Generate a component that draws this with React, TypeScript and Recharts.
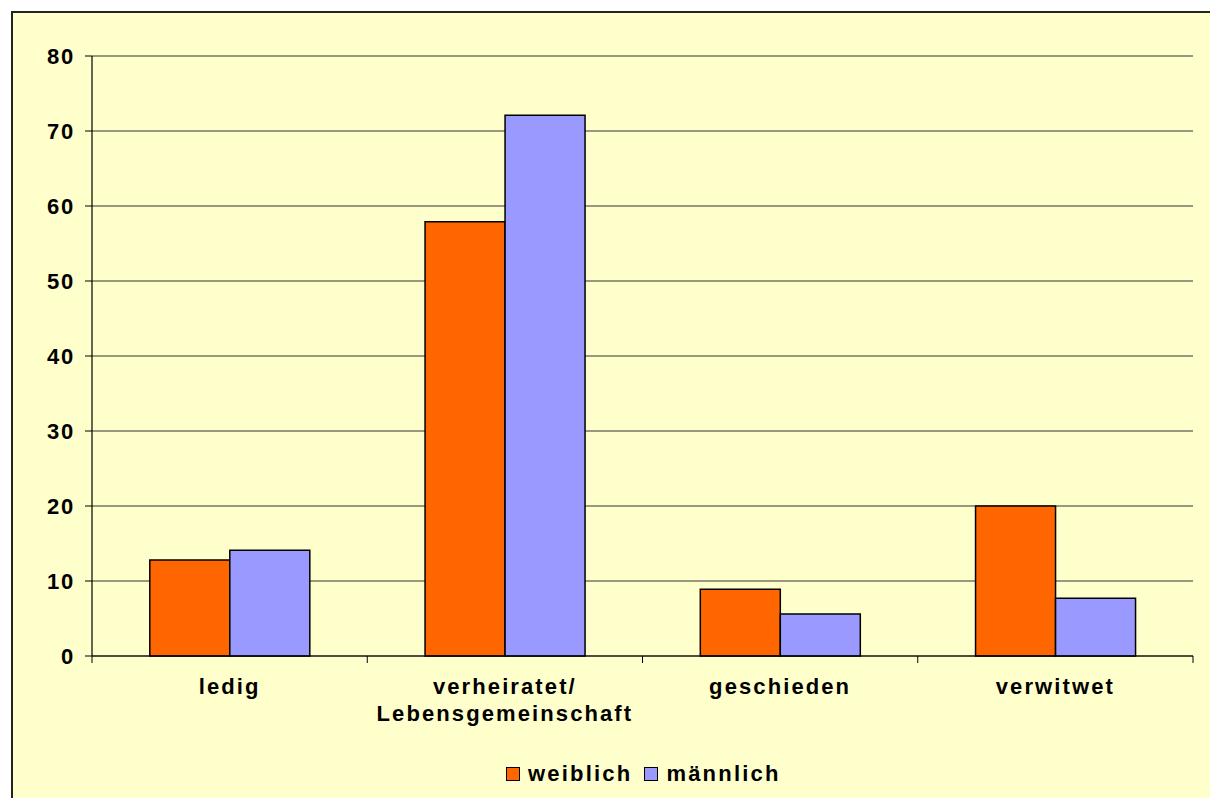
import React from 'react';
import {
    BarChart,
    Bar,
    XAxis,
    YAxis,
    CartesianGrid,
    Legend,
} from 'recharts';

const categories = ['ledig', 'verheiratet/\nLebensgemeinschaft', 'geschieden', 'verwitwet'];
const weiblich = [12.8, 57.9, 8.9, 20.0];
const maennlich = [14.1, 72.1, 5.6, 7.7];
const yTicks = [0, 10, 20, 30, 40, 50, 60, 70, 80];

const data = categories.map((name, i) => ({
    name,
    weiblich: weiblich[i],
    maennlich: maennlich[i],
}));

const FONT = '"Liberation Sans", Arial, sans-serif';

const series = [
    { key: 'weiblich', label: 'weiblich', color: '#FF6600' },
    { key: 'maennlich', label: 'männlich', color: '#9999FF' },
];

// category label plus the tick marks on the category boundaries
function CategoryTick({ x, y, payload, width, index, visibleTicksCount }: any) {
    const lines = String(payload.value).split('\n');
    const count = visibleTicksCount || categories.length;
    const half = (width || 1101) / count / 2;
    const last = index === count - 1;
    return (
        <g>
            <line x1={x - half} x2={x - half} y1={y} y2={y + 7} stroke="#000" />
            {last && <line x1={x + half} x2={x + half} y1={y} y2={y + 7} stroke="#000" />}
            <text
                x={x}
                y={y + 38}
                textAnchor="middle"
                fontFamily={FONT}
                fontWeight="bold"
                fontSize={22}
                letterSpacing={2.1}
                fill="#000"
            >
                {lines.map((line, i) => (
                    <tspan key={i} x={x} dy={i === 0 ? 0 : 27}>
                        {line}
                    </tspan>
                ))}
            </text>
        </g>
    );
}

function LegendContent() {
    return (
        <div style={{ display: 'flex', alignItems: 'center', fontFamily: FONT, fontWeight: 'bold', fontSize: 22, letterSpacing: 2.2, whiteSpace: 'nowrap' }}>
            {series.map((s, i) => (
                <div key={s.key} style={{ display: 'flex', alignItems: 'center', marginRight: i === 0 ? 12 : 0 }}>
                    <span
                        style={{
                            display: 'inline-block',
                            width: 12,
                            height: 12,
                            background: s.color,
                            border: '1.5px solid #000',
                            marginRight: 8,
                        }}
                    />
                    <span>{s.label}</span>
                </div>
            ))}
        </div>
    );
}

export default function App() {
    return (
        <div style={{ position: 'absolute', left: 0, top: 0, width: 1210, height: 798, background: '#fff', overflow: 'hidden' }}>
            <div
                style={{
                    position: 'absolute',
                    left: 11,
                    top: 11,
                    width: 1210,
                    height: 798,
                    background: '#FFFFCC',
                    borderLeft: '2px solid #222',
                    borderTop: '2px solid #222',
                }}
            />
            <div style={{ position: 'absolute', left: 0, top: 0 }}>
                <BarChart
                    width={1210}
                    height={798}
                    data={data}
                    margin={{ top: 56, right: 17, left: 0, bottom: 141 }}
                    barCategoryGap="21%"
                    barGap={0}
                >
                    <CartesianGrid vertical={false} stroke="#333" strokeWidth={1.2} />
                    <XAxis
                        dataKey="name"
                        height={1}
                        tickLine={false}
                        tickSize={0}
                        tickMargin={0}
                        axisLine={{ stroke: '#000', strokeWidth: 1.2 }}
                        tick={<CategoryTick />}
                        interval={0}
                    />
                    <YAxis
                        width={92}
                        domain={[0, 80]}
                        ticks={yTicks}
                        interval={0}
                        tickSize={7}
                        tickMargin={10}
                        axisLine={{ stroke: '#000', strokeWidth: 1.2 }}
                        tickLine={{ stroke: '#000' }}
                        tick={{ fill: '#000', fontFamily: FONT, fontWeight: 'bold', fontSize: 22, letterSpacing: 1.8 }}
                    />
                    <Legend
                        layout="vertical"
                        align="center"
                        verticalAlign="middle"
                        content={<LegendContent />}
                        wrapperStyle={{ left: 506, top: 761, width: 'auto', height: 'auto' }}
                    />
                    {series.map((s) => (
                        <Bar
                            key={s.key}
                            dataKey={s.key}
                            name={s.label}
                            fill={s.color}
                            stroke="#000"
                            strokeWidth={1.5}
                            isAnimationActive={false}
                        />
                    ))}
                </BarChart>
            </div>
        </div>
    );
}
